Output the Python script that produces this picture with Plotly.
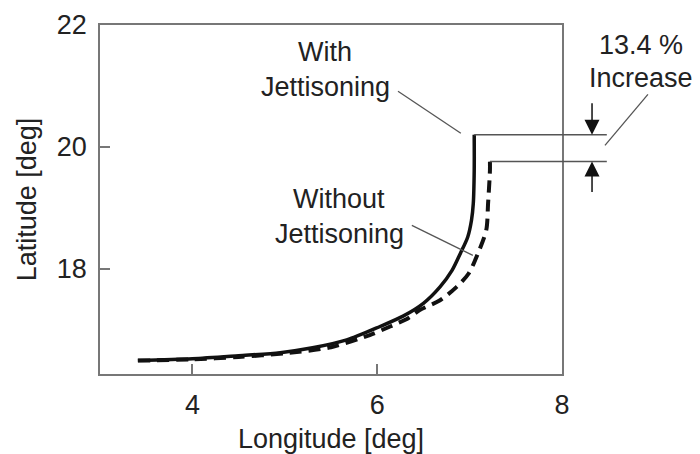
import plotly.graph_objects as go

# Ground track of the vehicle, longitude vs latitude (deg)
with_lon = [3.41, 4.0, 4.5, 4.95, 5.3, 5.67, 6.03, 6.28, 6.5, 6.68, 6.81, 6.90, 6.98, 7.02, 7.04, 7.05, 7.05]
with_lat = [16.49, 16.52, 16.57, 16.62, 16.70, 16.83, 17.05, 17.22, 17.43, 17.70, 17.97, 18.25, 18.52, 18.79, 19.07, 19.61, 20.20]

without_lon = [3.41, 4.0, 4.5, 5.0, 5.5, 5.92, 6.14, 6.34, 6.46, 6.68, 6.86, 6.99, 7.09, 7.18, 7.20, 7.22, 7.22]
without_lat = [16.49, 16.51, 16.55, 16.61, 16.71, 16.91, 17.05, 17.19, 17.32, 17.48, 17.70, 17.92, 18.25, 18.63, 19.07, 19.61, 19.76]

x_range = [3, 8]
y_range = [16.27, 22]
x_ticks = [4, 6, 8]
y_ticks = [18, 20, 22]

FONT = "Liberation Sans, Arial, sans-serif"
TXT = "#222222"
GUIDE = "#555555"


def px(v):
    return (v - x_range[0]) / (x_range[1] - x_range[0])


def py(v):
    return (v - y_range[0]) / (y_range[1] - y_range[0])


fig = go.Figure()
fig.add_trace(go.Scatter(x=with_lon, y=with_lat, mode="lines",
                         line=dict(color="#111111", width=3.5, shape="spline", smoothing=0.8),
                         name="With Jettisoning", showlegend=False))
fig.add_trace(go.Scatter(x=without_lon, y=without_lat, mode="lines",
                         line=dict(color="#111111", width=4, dash="12px,7px", shape="spline", smoothing=0.8),
                         name="Without Jettisoning", showlegend=False))

guide_end = 1.097
shapes = [
    # horizontal guides from the peak latitude of each track
    dict(type="line", xref="paper", yref="paper", x0=px(with_lon[-1]), y0=py(with_lat[-1]),
         x1=guide_end, y1=py(with_lat[-1]), line=dict(color=GUIDE, width=1.5)),
    dict(type="line", xref="paper", yref="paper", x0=px(without_lon[-1]), y0=py(without_lat[-1]),
         x1=guide_end, y1=py(without_lat[-1]), line=dict(color=GUIDE, width=1.5)),
    # leader lines for the labels
    dict(type="line", xref="paper", yref="paper", x0=0.645, y0=0.810, x1=0.781, y1=0.690,
         line=dict(color=GUIDE, width=1.3)),
    dict(type="line", xref="paper", yref="paper", x0=0.675, y0=0.426, x1=0.807, y1=0.340,
         line=dict(color=GUIDE, width=1.3)),
    dict(type="line", xref="paper", yref="paper", x0=1.186, y0=0.801, x1=1.093, y1=0.655,
         line=dict(color=GUIDE, width=1.3)),
]

ann = []


def label(text, xpx, ypx):
    ann.append(dict(text=text, xref="paper", yref="paper",
                    x=(xpx - 100) / 462, y=(374 - ypx) / 349.5,
                    xanchor="center", yanchor="middle", showarrow=False,
                    font=dict(family=FONT, size=27, color=TXT)))


label("With", 325, 52)
label("Jettisoning", 325, 87)
label("Without", 339, 199)
label("Jettisoning", 339, 234)
label("13.4 %", 641, 45)
label("Increase", 641, 78)

arrow_x = 1.065
ann.append(dict(x=arrow_x, y=with_lat[-1], xref="paper", yref="y", ax=0, ay=-33,
                text="", showarrow=True, arrowhead=2, arrowsize=2, arrowwidth=1.5,
                arrowcolor="#111111", standoff=0))
ann.append(dict(x=arrow_x, y=without_lat[-1], xref="paper", yref="y", ax=0, ay=32,
                text="", showarrow=True, arrowhead=2, arrowsize=2, arrowwidth=1.5,
                arrowcolor="#111111", standoff=0))

axis_common = dict(showgrid=False, zeroline=False, showline=True, linecolor="#777777",
                   linewidth=1.5, mirror=True, ticks="inside", ticklen=10, tickwidth=1.5,
                   tickcolor="#777777", automargin=False,
                   tickfont=dict(family=FONT, size=27, color=TXT))

fig.update_layout(
    width=700, height=454,
    margin=dict(l=100, r=138, t=25, b=80),
    paper_bgcolor="white", plot_bgcolor="white",
    xaxis=dict(range=x_range, tickvals=x_ticks, ticklabelstandoff=6,
               title=dict(text="Longitude [deg]", standoff=16,
                          font=dict(family=FONT, size=27, color=TXT)),
               **axis_common),
    yaxis=dict(range=y_range, tickvals=y_ticks, ticklabelstandoff=6,
               title=dict(text="Latitude [deg]", standoff=12,
                          font=dict(family=FONT, size=27, color=TXT)),
               **axis_common),
    shapes=shapes,
    annotations=ann,
)

fig.write_html("out.html")
